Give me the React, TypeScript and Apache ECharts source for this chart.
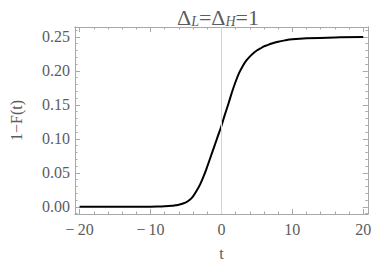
import React, { useEffect, useRef } from "react";
import * as echarts from "echarts";

const tValues = [-20, -16, -12, -10, -9, -8, -7, -6.5, -6, -5.5, -5, -4.5, -4, -3.5, -3, -2.5, -2, -1.5, -1, -0.5, 0, 0.5, 1, 1.5, 2, 2.5, 3, 3.5, 4, 4.5, 5, 5.5, 6, 6.5, 7, 8, 9, 10, 12, 16, 20];
const survival = [0, 0, 0.0001, 0.0002, 0.0004, 0.0008, 0.0015, 0.0022, 0.003, 0.0045, 0.0065, 0.0100, 0.0155, 0.0235, 0.033, 0.045, 0.059, 0.074, 0.089, 0.104, 0.119, 0.136, 0.152, 0.169, 0.184, 0.197, 0.207, 0.215, 0.221, 0.226, 0.230, 0.233, 0.236, 0.238, 0.240, 0.243, 0.245, 0.2465, 0.248, 0.2493, 0.2497];

const xMajorTicks = [-20, -10, 0, 10, 20];
const xMinorTicks = [-18, -16, -14, -12, -8, -6, -4, -2, 2, 4, 6, 8, 12, 14, 16, 18];
const yMajorTicks = [0, 0.05, 0.1, 0.15, 0.2, 0.25];
const yMinorTicks = [-0.01, 0.01, 0.02, 0.03, 0.04, 0.06, 0.07, 0.08, 0.09, 0.11, 0.12, 0.13, 0.14, 0.16, 0.17, 0.18, 0.19, 0.21, 0.22, 0.23, 0.24, 0.26];

const FONT = "Liberation Serif";
const TEXT = "#5c5c5c";
const FRAME = "#a8a8a8";

const X_MIN = -20.65;
const X_MAX = 20.65;
const Y_MIN = -0.0106;
const Y_MAX = 0.2646;

function xAxisDef(position: "top" | "bottom", ticks: number[], len: number, labels: boolean, extra: any = {}) {
  return {
    type: "value",
    position,
    min: X_MIN,
    max: X_MAX,
    axisLine: { show: true, onZero: false, lineStyle: { color: FRAME, width: 1 } },
    axisTick: { show: true, inside: true, length: len, customValues: ticks, lineStyle: { color: FRAME, width: 1 } },
    axisLabel: labels
      ? {
          show: true,
          customValues: ticks,
          margin: 7,
          color: TEXT,
          fontFamily: FONT,
          fontSize: 16,
          formatter: (v: number) => (v < 0 ? "\u2212\u2009" + Math.abs(v) : String(v)),
        }
      : { show: false },
    splitLine: { show: false },
    ...extra,
  };
}

function yAxisDef(position: "left" | "right", ticks: number[], len: number, labels: boolean, extra: any = {}) {
  return {
    type: "value",
    position,
    min: Y_MIN,
    max: Y_MAX,
    axisLine: { show: true, onZero: false, lineStyle: { color: FRAME, width: 1 } },
    axisTick: { show: true, inside: true, length: len, customValues: ticks, lineStyle: { color: FRAME, width: 1 } },
    axisLabel: labels
      ? {
          show: true,
          customValues: ticks,
          margin: 5,
          color: TEXT,
          fontFamily: FONT,
          fontSize: 16,
          formatter: (v: number) => v.toFixed(2),
        }
      : { show: false },
    splitLine: { show: false },
    ...extra,
  };
}

export default function App() {
  const ref = useRef<HTMLDivElement>(null);
  useEffect(() => {
    if (!ref.current) return;
    const chart = echarts.init(ref.current, null, { renderer: "svg" });
    const data = tValues.map((t, i) => [t, survival[i]]);
    chart.setOption({
      animation: false,
      backgroundColor: "#ffffff",
      textStyle: { fontFamily: FONT },
      title: {
        left: 213,
        top: -1,
        textAlign: "center",
        text: "{d|\u0394}{s|L}{d|=\u0394}{s|H}{d|=1}",
        textStyle: {
          fontWeight: "normal",
          fontFamily: FONT,
          rich: {
            d: { fontFamily: FONT, fontSize: 22, fontWeight: "normal", color: TEXT, lineHeight: 24, verticalAlign: "bottom" },
            s: { fontFamily: FONT, fontSize: 14, fontWeight: "normal", fontStyle: "italic", color: TEXT, lineHeight: 13, verticalAlign: "bottom" },
          },
        },
      },
      grid: { left: 62, right: 6, top: 27, bottom: 50, containLabel: false },
      xAxis: [
        xAxisDef("bottom", xMajorTicks, 5, true, {
          name: "t",
          nameLocation: "middle",
          nameGap: 31,
          nameTextStyle: { color: TEXT, fontFamily: FONT, fontSize: 16 },
        }),
        xAxisDef("bottom", xMinorTicks, 2.5, false),
        xAxisDef("top", xMajorTicks, 5, false),
        xAxisDef("top", xMinorTicks, 2.5, false),
      ],
      yAxis: [
        yAxisDef("left", yMajorTicks, 5, true, {
          name: "1\u2212F(t)",
          nameLocation: "middle",
          nameGap: 51,
          nameRotate: 90,
          nameTextStyle: { color: TEXT, fontFamily: FONT, fontSize: 16 },
        }),
        yAxisDef("left", yMinorTicks, 2.5, false),
        yAxisDef("right", yMajorTicks, 5, false),
        yAxisDef("right", yMinorTicks, 2.5, false),
      ],
      series: [
        {
          type: "line",
          xAxisIndex: 0,
          yAxisIndex: 0,
          data,
          smooth: 0.35,
          symbol: "none",
          lineStyle: { color: "#000000", width: 2 },
          z: 3,
          markLine: {
            silent: true,
            symbol: "none",
            label: { show: false },
            lineStyle: { color: "#d4d4d4", width: 1, type: "solid" },
            data: [{ xAxis: 0 }],
          },
        },
      ],
    });
    return () => chart.dispose();
  }, []);
  return <div ref={ref} style={{ position: "fixed", left: 0, top: 0, width: 374, height: 266 }} />;
}
